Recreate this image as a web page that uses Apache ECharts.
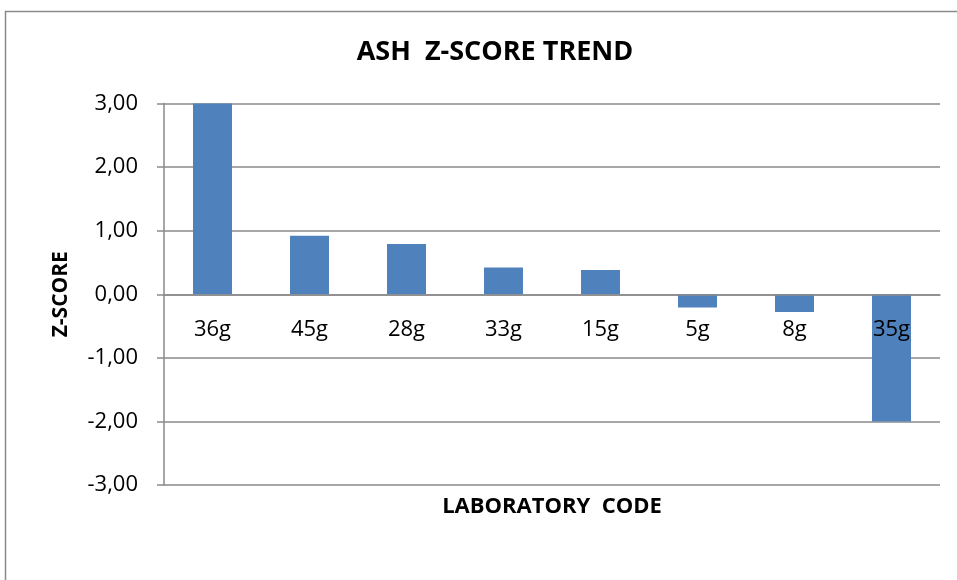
<!DOCTYPE html>
<html>
<head>
<meta charset="utf-8">
<script src="https://cdn.jsdelivr.net/npm/echarts@6/dist/echarts.min.js"></script>
<style>
  html, body { margin: 0; padding: 0; background: #fff; }
  #chart { width: 957px; height: 580px; }
</style>
</head>
<body>
<div id="chart"></div>
<script>
// lab codes along the x axis
const labCodes = ['36g', '45g', '28g', '33g', '15g', '5g', '8g', '35g'];
// z-score per lab
const zScores = [3.00, 0.92, 0.79, 0.42, 0.38, -0.21, -0.28, -2.00];
// y axis range
const yMin = -3, yMax = 3, yStep = 1;

const myChart = echarts.init(document.getElementById('chart'));
const fontFam = 'Open Sans, Noto Sans, sans-serif';

myChart.setOption({
  animation: false,
  backgroundColor: '#fff',
  title: {
    text: 'ASH  Z-SCORE TREND',
    left: 490,
    top: 34,
    textAlign: 'center',
    textStyle: { fontFamily: fontFam, fontSize: 27, fontWeight: 'bold', color: '#000' }
  },
  graphic: [{
    // outer chart frame (runs off the right and bottom edges)
    type: 'rect',
    shape: { x: 5.5, y: 11.5, width: 1000, height: 700 },
    style: { fill: null, stroke: '#8a8a8a', lineWidth: 1.5 },
    silent: true
  }],
  grid: { left: 164, right: 17, top: 103.5, bottom: 95, containLabel: false, outerBoundsMode: 'none' },
  xAxis: {
    type: 'category',
    data: labCodes,
    z: 5,
    // move the category axis up to the zero line
    offset: -190.75,
    name: 'LABORATORY  CODE',
    nameLocation: 'middle',
    nameGap: 201,
    nameTextStyle: { fontFamily: fontFam, fontSize: 22, fontWeight: 'bold', color: '#000' },
    axisLine: { show: true, onZero: false, lineStyle: { color: '#8a8a8a', width: 1.5 } },
    axisTick: { show: false },
    axisLabel: { fontFamily: fontFam, fontSize: 22, color: '#000', margin: 24 }
  },
  yAxis: {
    type: 'value',
    min: yMin,
    max: yMax,
    interval: yStep,
    name: 'Z-SCORE',
    nameLocation: 'middle',
    nameGap: 92,
    nameRotate: 90,
    nameTextStyle: { fontFamily: fontFam, fontSize: 21, fontWeight: 'bold', color: '#000' },
    axisLine: { show: true, lineStyle: { color: '#8a8a8a', width: 1.5 } },
    axisTick: { show: true, inside: false, length: 7, lineStyle: { color: '#8a8a8a', width: 1.5 } },
    axisLabel: {
      fontFamily: fontFam, fontSize: 22, color: '#000', margin: 26,
      formatter: v => v.toFixed(2).replace('.', ',')
    },
    splitLine: { show: true, lineStyle: { color: '#8a8a8a', width: 1.5 } }
  },
  series: [{
    type: 'bar',
    data: zScores,
    barWidth: 39,
    itemStyle: { color: '#4f81bd' }
  }]
});
</script>
</body>
</html>
